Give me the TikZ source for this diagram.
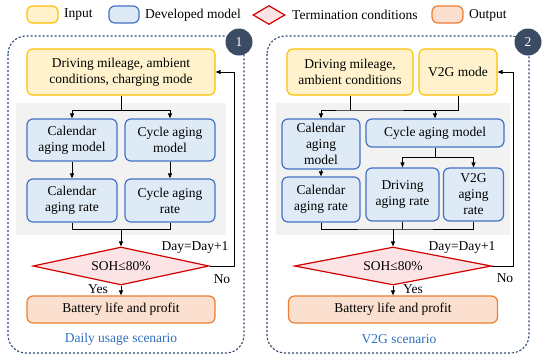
\documentclass[tikz,border=0pt]{standalone}
\usepackage{fontspec}
\setmainfont{Liberation Serif}
\usetikzlibrary{arrows.meta,shapes.geometric,calc}
\definecolor{inF}{HTML}{FFF2CC}
\definecolor{inD}{HTML}{FFC000}
\definecolor{dvF}{HTML}{DEEBF7}
\definecolor{dvD}{HTML}{4472C4}
\definecolor{tmF}{HTML}{FCE4E6}
\definecolor{tmD}{HTML}{D00000}
\definecolor{otF}{HTML}{FBE0D0}
\definecolor{otD}{HTML}{ED7D31}
\definecolor{grayA}{HTML}{F2F2F2}
\definecolor{navy}{HTML}{2E4A70}
\definecolor{circ}{HTML}{3C4B64}
\definecolor{scen}{HTML}{2E6FC0}
\begin{document}
\begin{tikzpicture}[x=1pt,y=-1pt,
  every node/.style={font=\fontsize{13.5}{16}\selectfont, align=center, inner sep=0pt},
  box/.style={rounded corners=6pt, line width=1.2pt},
  inbox/.style={box, draw=inD, fill=inF},
  devbox/.style={box, draw=dvD, fill=dvF},
  outbox/.style={box, draw=otD, fill=otF},
  decis/.style={diamond, draw=tmD, fill=tmF, line width=1.2pt, aspect=4.6},
  arr/.style={-{Triangle[length=5pt,width=4pt]}, line width=0.9pt},
  ln/.style={line width=0.9pt},
  panel/.style={draw=navy, dash pattern=on 2.2pt off 1.8pt, line width=1.1pt, rounded corners=18pt},
  badge/.style={circle, fill=circ, text=white, minimum size=27pt},
  lbl/.style={anchor=west}
]
\useasboundingbox (0,0) rectangle (550,360);

% legend
\node[inbox, minimum width=31pt, minimum height=17pt] (lgIn) at (42.5,14.5) {};
\node[lbl] (lgInT) at (64,15) {Input};
\node[devbox, minimum width=30pt, minimum height=17pt] (lgDv) at (124,14.5) {};
\node[lbl] (lgDvT) at (145,15) {Developed model};
\node[diamond, draw=tmD, fill=tmF, line width=1.2pt, minimum width=32pt, minimum height=19pt, aspect=1.7] (lgTm) at (269,15) {};
\node[lbl] (lgTmT) at (292,15) {Termination conditions};
\node[outbox, minimum width=31pt, minimum height=17pt] (lgOt) at (447.5,14.5) {};
\node[lbl] (lgOtT) at (469,15) {Output};

% panels
\draw[panel] (8,36) rectangle (244,353);
\draw[panel] (267,36) rectangle (529,353);
\fill[grayA] (16,103) rectangle (226,235);
\fill[grayA] (276,103) rectangle (510,235);
\node[badge] (b1) at (239,42) {1};
\node[badge] (b2) at (528,42) {2};

% ---------- left panel ----------
\node[inbox, minimum width=188pt, minimum height=46pt] (inL) at (121,72) {Driving mileage, ambient\\conditions, charging mode};
\node[devbox, minimum width=90pt, minimum height=42pt] (calmL) at (72,140) {Calendar\\aging model};
\node[devbox, minimum width=90pt, minimum height=42pt] (cycmL) at (170,140) {Cycle aging\\model};
\node[devbox, minimum width=90pt, minimum height=43pt] (calrL) at (72,200.5) {Calendar\\aging rate};
\node[devbox, minimum width=90pt, minimum height=43pt] (cycrL) at (170,200.5) {Cycle aging\\rate};
\node[decis, minimum width=176pt, minimum height=38pt] (decL) at (121,266) {SOH≤80\%};
\node[outbox, minimum width=188pt, minimum height=27pt] (outL) at (121,309.5) {Battery life and profit};
\node[text=scen] (scL) at (121,339) {Daily usage scenario};
\node (yesL) at (98,289) {Yes};
\node (noL) at (222,279) {No};
\node (dayL) at (195,247) {Day=Day+1};

\coordinate (jL) at (121,110);
\coordinate (kL) at (121,229);
\coordinate (fL) at (234,72);
\draw[ln] (inL.south) -- (jL);
\draw[arr] (jL) -| (calmL.north);
\draw[arr] (jL) -| (cycmL.north);
\draw[arr] (calmL.south) -- (calrL.north);
\draw[arr] (cycmL.south) -- (cycrL.north);
\draw[ln] (calrL.south) |- (kL);
\draw[ln] (cycrL.south) |- (kL);
\draw[arr] (kL) -- (decL.north);
\draw[arr] (decL.south) -- (outL.north);
\draw[arr] (decL.east) -| (fL) -- (inL.east);

% ---------- right panel ----------
\node[inbox, minimum width=126pt, minimum height=46pt] (in1R) at (350,72) {Driving mileage,\\ambient conditions};
\node[inbox, minimum width=78pt, minimum height=46pt] (v2gR) at (458,72) {V2G mode};
\node[devbox, minimum width=78pt, minimum height=50pt] (calmR) at (321,144) {Calendar\\aging\\model};
\node[devbox, minimum width=138pt, minimum height=28pt] (cycmR) at (435,133) {Cycle aging model};
\node[devbox, minimum width=78pt, minimum height=45pt] (calrR) at (321,199.5) {Calendar\\aging rate};
\node[devbox, minimum width=73pt, minimum height=53pt] (drvR) at (402.5,194.5) {Driving\\aging rate};
\node[devbox, minimum width=60pt, minimum height=53pt] (v2grR) at (473.5,194.5) {V2G\\aging\\rate};
\node[decis, minimum width=197pt, minimum height=38pt] (decR) at (393,266) {SOH≤80\%};
\node[outbox, minimum width=209pt, minimum height=27pt] (outR) at (393,309.5) {Battery life and profit};
\node[text=scen] (scR) at (399,339) {V2G scenario};
\node (yesR) at (413,289) {Yes};
\node (noR) at (505,278) {No};
\node (dayR) at (462,247) {Day=Day+1};

\coordinate (jR) at (350,110);
\coordinate (mR) at (435,157);
\coordinate (kR) at (393,229);
\coordinate (fR) at (513,72);
\draw[ln] (in1R.south) -- (jR);
\draw[arr] (v2gR.south) |- (jR) -| (calmR.north);
\draw[arr] (cycmR.north |- jR) -- (cycmR.north);
\draw[arr] (calmR.south) -- (calrR.north);
\draw[ln] (cycmR.south) -- (mR);
\draw[arr] (mR) -| (drvR.north);
\draw[arr] (mR) -| (v2grR.north);
\draw[ln] (calrR.south) |- (kR) -| (v2grR.south);
\draw[ln] (drvR.south) -- (drvR.south |- kR);
\draw[arr] (kR) -- (decR.north);
\draw[arr] (decR.south) -- (outR.north);
\draw[arr] (decR.east) -| (fR) -- (v2gR.east);
\end{tikzpicture}
\end{document}
